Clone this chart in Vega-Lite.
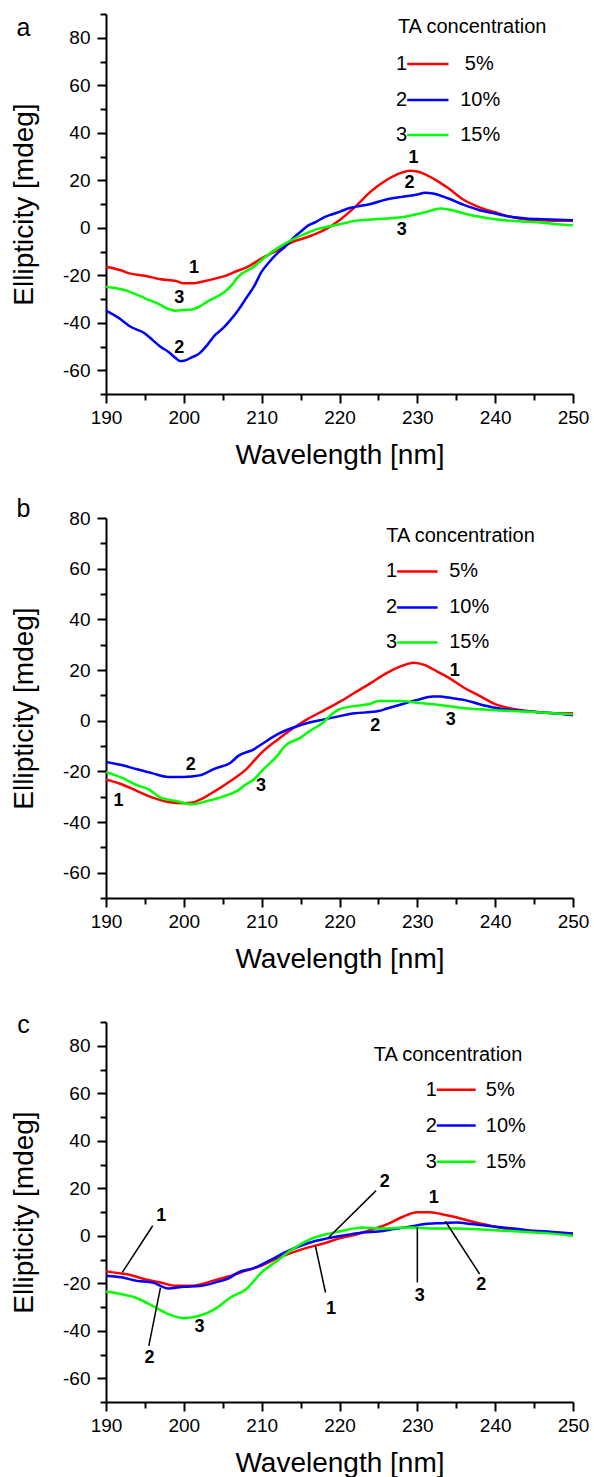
{
  "$schema": "https://vega.github.io/schema/vega-lite/v6.json",
  "padding": {"left": 10, "top": 13, "right": 0, "bottom": 0},
  "background": "white",
  "bounds": "flush",
  "spacing": 124,
  "config": {
    "locale": {"number": {"decimal": ".", "thousands": ",", "grouping": [3], "currency": ["$", ""], "minus": "-"}},
    "view": {"stroke": null},
    "axis": {
      "domainColor": "black", "domainWidth": 2, "tickColor": "black", "tickWidth": 2,
      "labelFont": "Liberation Sans", "labelFontSize": 19, "labelColor": "black",
      "titleFont": "Liberation Sans", "titleFontSize": 28, "titleFontWeight": "normal", "titleColor": "black",
      "grid": false, "labelFlush": false, "labelOverlap": false
    }
  },
  "datasets": {
    "curves": [
      {"panel":"a","series":"1","wl":190,"v":-16.4},{"panel":"a","series":"1","wl":192,"v":-18},{"panel":"a","series":"1","wl":193,"v":-19.2},{"panel":"a","series":"1","wl":195,"v":-20.2},{"panel":"a","series":"1","wl":197,"v":-21.7},{"panel":"a","series":"1","wl":199,"v":-22.4},{"panel":"a","series":"1","wl":200,"v":-23.4},{"panel":"a","series":"1","wl":201,"v":-23.4},{"panel":"a","series":"1","wl":203,"v":-22.2},{"panel":"a","series":"1","wl":205,"v":-20.6},{"panel":"a","series":"1","wl":207,"v":-18},{"panel":"a","series":"1","wl":208,"v":-16.8},{"panel":"a","series":"1","wl":210,"v":-12.9},{"panel":"a","series":"1","wl":212,"v":-9.4},{"panel":"a","series":"1","wl":214,"v":-5.9},{"panel":"a","series":"1","wl":216,"v":-3.8},{"panel":"a","series":"1","wl":218,"v":-1},{"panel":"a","series":"1","wl":220,"v":3.2},{"panel":"a","series":"1","wl":222,"v":8.8},{"panel":"a","series":"1","wl":224,"v":15.2},{"panel":"a","series":"1","wl":226,"v":20},{"panel":"a","series":"1","wl":228,"v":23.2},{"panel":"a","series":"1","wl":229,"v":24},{"panel":"a","series":"1","wl":230,"v":23.7},{"panel":"a","series":"1","wl":232,"v":20.8},{"panel":"a","series":"1","wl":234,"v":16.6},{"panel":"a","series":"1","wl":236,"v":11.7},{"panel":"a","series":"1","wl":238,"v":8.6},{"panel":"a","series":"1","wl":240,"v":6.5},{"panel":"a","series":"1","wl":242,"v":4.6},{"panel":"a","series":"1","wl":244,"v":3.5},{"panel":"a","series":"1","wl":246,"v":3.2},{"panel":"a","series":"1","wl":248,"v":2.9},{"panel":"a","series":"1","wl":250,"v":2.9},
      {"panel":"a","series":"2","wl":190,"v":-34.9},{"panel":"a","series":"2","wl":192,"v":-38.8},{"panel":"a","series":"2","wl":193,"v":-41.4},{"panel":"a","series":"2","wl":195,"v":-44.5},{"panel":"a","series":"2","wl":196,"v":-47.3},{"panel":"a","series":"2","wl":197,"v":-50.1},{"panel":"a","series":"2","wl":198,"v":-52.2},{"panel":"a","series":"2","wl":199,"v":-55},{"panel":"a","series":"2","wl":199.5,"v":-56.1},{"panel":"a","series":"2","wl":200,"v":-56},{"panel":"a","series":"2","wl":201,"v":-54.6},{"panel":"a","series":"2","wl":202,"v":-52.9},{"panel":"a","series":"2","wl":203,"v":-49.4},{"panel":"a","series":"2","wl":204,"v":-45.2},{"panel":"a","series":"2","wl":205,"v":-42.4},{"panel":"a","series":"2","wl":206,"v":-38.8},{"panel":"a","series":"2","wl":207,"v":-34.6},{"panel":"a","series":"2","wl":208,"v":-29.7},{"panel":"a","series":"2","wl":209,"v":-24.8},{"panel":"a","series":"2","wl":210,"v":-18.5},{"panel":"a","series":"2","wl":211,"v":-14.3},{"panel":"a","series":"2","wl":212,"v":-10.8},{"panel":"a","series":"2","wl":213,"v":-8},{"panel":"a","series":"2","wl":214,"v":-4.5},{"panel":"a","series":"2","wl":215,"v":-1.7},{"panel":"a","series":"2","wl":216,"v":1},{"panel":"a","series":"2","wl":217,"v":2.5},{"panel":"a","series":"2","wl":218,"v":4.4},{"panel":"a","series":"2","wl":219,"v":5.6},{"panel":"a","series":"2","wl":220,"v":6.7},{"panel":"a","series":"2","wl":221,"v":8},{"panel":"a","series":"2","wl":222,"v":8.8},{"panel":"a","series":"2","wl":224,"v":10},{"panel":"a","series":"2","wl":226,"v":11.9},{"panel":"a","series":"2","wl":228,"v":13},{"panel":"a","series":"2","wl":230,"v":14},{"panel":"a","series":"2","wl":231,"v":14.7},{"panel":"a","series":"2","wl":232,"v":14.4},{"panel":"a","series":"2","wl":234,"v":12.3},{"panel":"a","series":"2","wl":236,"v":9.6},{"panel":"a","series":"2","wl":238,"v":7.4},{"panel":"a","series":"2","wl":240,"v":6},{"panel":"a","series":"2","wl":242,"v":4.6},{"panel":"a","series":"2","wl":244,"v":3.9},{"panel":"a","series":"2","wl":246,"v":3.6},{"panel":"a","series":"2","wl":248,"v":3.4},{"panel":"a","series":"2","wl":250,"v":3.2},
      {"panel":"a","series":"3","wl":190,"v":-24.8},{"panel":"a","series":"3","wl":192,"v":-25.9},{"panel":"a","series":"3","wl":193,"v":-26.9},{"panel":"a","series":"3","wl":195,"v":-29.7},{"panel":"a","series":"3","wl":197,"v":-32.5},{"panel":"a","series":"3","wl":198,"v":-34.2},{"panel":"a","series":"3","wl":199,"v":-34.9},{"panel":"a","series":"3","wl":200,"v":-34.6},{"panel":"a","series":"3","wl":201,"v":-34.4},{"panel":"a","series":"3","wl":202,"v":-33.2},{"panel":"a","series":"3","wl":203,"v":-31.1},{"panel":"a","series":"3","wl":205,"v":-27.6},{"panel":"a","series":"3","wl":206,"v":-24.8},{"panel":"a","series":"3","wl":207,"v":-20.6},{"panel":"a","series":"3","wl":209,"v":-16.4},{"panel":"a","series":"3","wl":210,"v":-13.6},{"panel":"a","series":"3","wl":212,"v":-8.7},{"panel":"a","series":"3","wl":214,"v":-4.9},{"panel":"a","series":"3","wl":216,"v":-2},{"panel":"a","series":"3","wl":217,"v":-0.7},{"panel":"a","series":"3","wl":218,"v":0.1},{"panel":"a","series":"3","wl":220,"v":1.5},{"panel":"a","series":"3","wl":222,"v":2.9},{"panel":"a","series":"3","wl":224,"v":3.5},{"panel":"a","series":"3","wl":226,"v":3.9},{"panel":"a","series":"3","wl":228,"v":4.4},{"panel":"a","series":"3","wl":230,"v":5.8},{"panel":"a","series":"3","wl":231,"v":6.5},{"panel":"a","series":"3","wl":233,"v":8.1},{"panel":"a","series":"3","wl":234,"v":7.7},{"panel":"a","series":"3","wl":236,"v":6},{"panel":"a","series":"3","wl":238,"v":4.6},{"panel":"a","series":"3","wl":240,"v":3.6},{"panel":"a","series":"3","wl":242,"v":2.9},{"panel":"a","series":"3","wl":244,"v":2.5},{"panel":"a","series":"3","wl":246,"v":2.1},{"panel":"a","series":"3","wl":248,"v":1.5},{"panel":"a","series":"3","wl":250,"v":1},
      {"panel":"b","series":"1","wl":190,"v":-23.2},{"panel":"b","series":"1","wl":192,"v":-25.1},{"panel":"b","series":"1","wl":194,"v":-27.8},{"panel":"b","series":"1","wl":196,"v":-30.4},{"panel":"b","series":"1","wl":198,"v":-32.1},{"panel":"b","series":"1","wl":200,"v":-32.6},{"panel":"b","series":"1","wl":201,"v":-32.4},{"panel":"b","series":"1","wl":202,"v":-31.3},{"panel":"b","series":"1","wl":204,"v":-27.8},{"panel":"b","series":"1","wl":206,"v":-23.8},{"panel":"b","series":"1","wl":208,"v":-19.2},{"panel":"b","series":"1","wl":210,"v":-12.6},{"panel":"b","series":"1","wl":212,"v":-7.6},{"panel":"b","series":"1","wl":214,"v":-3.1},{"panel":"b","series":"1","wl":216,"v":0.8},{"panel":"b","series":"1","wl":218,"v":4.1},{"panel":"b","series":"1","wl":220,"v":7.4},{"panel":"b","series":"1","wl":222,"v":11.1},{"panel":"b","series":"1","wl":224,"v":14.8},{"panel":"b","series":"1","wl":226,"v":18.7},{"panel":"b","series":"1","wl":228,"v":21.6},{"panel":"b","series":"1","wl":229.5,"v":22.9},{"panel":"b","series":"1","wl":231,"v":21.9},{"panel":"b","series":"1","wl":232,"v":20.3},{"panel":"b","series":"1","wl":234,"v":17},{"panel":"b","series":"1","wl":236,"v":13},{"panel":"b","series":"1","wl":238,"v":9.8},{"panel":"b","series":"1","wl":240,"v":6.5},{"panel":"b","series":"1","wl":242,"v":4.8},{"panel":"b","series":"1","wl":244,"v":3.8},{"panel":"b","series":"1","wl":246,"v":3.2},{"panel":"b","series":"1","wl":248,"v":2.9},{"panel":"b","series":"1","wl":250,"v":2.9},
      {"panel":"b","series":"2","wl":190,"v":-16.3},{"panel":"b","series":"2","wl":192,"v":-17.5},{"panel":"b","series":"2","wl":194,"v":-19.2},{"panel":"b","series":"2","wl":196,"v":-20.8},{"panel":"b","series":"2","wl":198,"v":-22.2},{"panel":"b","series":"2","wl":200,"v":-22.2},{"panel":"b","series":"2","wl":202,"v":-21.6},{"panel":"b","series":"2","wl":204,"v":-18.9},{"panel":"b","series":"2","wl":206,"v":-16.6},{"panel":"b","series":"2","wl":207,"v":-13.9},{"panel":"b","series":"2","wl":209,"v":-11.3},{"panel":"b","series":"2","wl":210,"v":-9.3},{"panel":"b","series":"2","wl":212,"v":-5.4},{"panel":"b","series":"2","wl":214,"v":-2.8},{"panel":"b","series":"2","wl":216,"v":-0.8},{"panel":"b","series":"2","wl":218,"v":0.5},{"panel":"b","series":"2","wl":220,"v":1.8},{"panel":"b","series":"2","wl":222,"v":2.9},{"panel":"b","series":"2","wl":224,"v":3.4},{"panel":"b","series":"2","wl":225,"v":3.8},{"panel":"b","series":"2","wl":226,"v":4.7},{"panel":"b","series":"2","wl":228,"v":6.5},{"panel":"b","series":"2","wl":230,"v":8.2},{"panel":"b","series":"2","wl":232,"v":9.5},{"panel":"b","series":"2","wl":233,"v":9.5},{"panel":"b","series":"2","wl":234,"v":9.1},{"panel":"b","series":"2","wl":236,"v":8.2},{"panel":"b","series":"2","wl":238,"v":6.5},{"panel":"b","series":"2","wl":240,"v":5.1},{"panel":"b","series":"2","wl":242,"v":4.2},{"panel":"b","series":"2","wl":244,"v":3.8},{"panel":"b","series":"2","wl":246,"v":3.2},{"panel":"b","series":"2","wl":248,"v":2.8},{"panel":"b","series":"2","wl":250,"v":2.1},
      {"panel":"b","series":"3","wl":190,"v":-20.3},{"panel":"b","series":"3","wl":192,"v":-22.5},{"panel":"b","series":"3","wl":194,"v":-25.5},{"panel":"b","series":"3","wl":195.5,"v":-27.1},{"panel":"b","series":"3","wl":197,"v":-30.4},{"panel":"b","series":"3","wl":199,"v":-31.7},{"panel":"b","series":"3","wl":201,"v":-33},{"panel":"b","series":"3","wl":203,"v":-31.7},{"panel":"b","series":"3","wl":205,"v":-30},{"panel":"b","series":"3","wl":207,"v":-27.4},{"panel":"b","series":"3","wl":208,"v":-25.1},{"panel":"b","series":"3","wl":209,"v":-23.2},{"panel":"b","series":"3","wl":210,"v":-19.9},{"panel":"b","series":"3","wl":212,"v":-13.9},{"panel":"b","series":"3","wl":213,"v":-10},{"panel":"b","series":"3","wl":215,"v":-6.7},{"panel":"b","series":"3","wl":216,"v":-4.5},{"panel":"b","series":"3","wl":218,"v":-0.4},{"panel":"b","series":"3","wl":219,"v":2.5},{"panel":"b","series":"3","wl":220,"v":4.5},{"panel":"b","series":"3","wl":222,"v":5.8},{"panel":"b","series":"3","wl":224,"v":6.7},{"panel":"b","series":"3","wl":225,"v":7.8},{"panel":"b","series":"3","wl":226,"v":7.8},{"panel":"b","series":"3","wl":228,"v":7.8},{"panel":"b","series":"3","wl":230,"v":7.1},{"panel":"b","series":"3","wl":232,"v":6.5},{"panel":"b","series":"3","wl":234,"v":5.8},{"panel":"b","series":"3","wl":236,"v":4.9},{"panel":"b","series":"3","wl":238,"v":4.5},{"panel":"b","series":"3","wl":240,"v":4.1},{"panel":"b","series":"3","wl":242,"v":3.8},{"panel":"b","series":"3","wl":244,"v":3.6},{"panel":"b","series":"3","wl":246,"v":3.2},{"panel":"b","series":"3","wl":248,"v":2.8},{"panel":"b","series":"3","wl":250,"v":2.5},
      {"panel":"c","series":"1","wl":190,"v":-15},{"panel":"c","series":"1","wl":192,"v":-15.9},{"panel":"c","series":"1","wl":193,"v":-16.4},{"panel":"c","series":"1","wl":195,"v":-18.3},{"panel":"c","series":"1","wl":197,"v":-19.7},{"panel":"c","series":"1","wl":199,"v":-21.1},{"panel":"c","series":"1","wl":201,"v":-21.1},{"panel":"c","series":"1","wl":202,"v":-20.6},{"panel":"c","series":"1","wl":204,"v":-18.7},{"panel":"c","series":"1","wl":206,"v":-16.9},{"panel":"c","series":"1","wl":208,"v":-14.7},{"panel":"c","series":"1","wl":210,"v":-12.6},{"panel":"c","series":"1","wl":212,"v":-9.5},{"panel":"c","series":"1","wl":214,"v":-7},{"panel":"c","series":"1","wl":216,"v":-4.9},{"panel":"c","series":"1","wl":218,"v":-3.2},{"panel":"c","series":"1","wl":220,"v":-1.1},{"panel":"c","series":"1","wl":222,"v":0.4},{"panel":"c","series":"1","wl":224,"v":2.4},{"panel":"c","series":"1","wl":226,"v":4.7},{"panel":"c","series":"1","wl":228,"v":7.8},{"panel":"c","series":"1","wl":230,"v":9.9},{"panel":"c","series":"1","wl":231.5,"v":9.9},{"panel":"c","series":"1","wl":233,"v":9.2},{"panel":"c","series":"1","wl":235,"v":7.8},{"panel":"c","series":"1","wl":237,"v":6},{"panel":"c","series":"1","wl":239,"v":4.5},{"panel":"c","series":"1","wl":241,"v":3.2},{"panel":"c","series":"1","wl":243,"v":2.4},{"panel":"c","series":"1","wl":245,"v":1.8},{"panel":"c","series":"1","wl":247,"v":1.4},{"panel":"c","series":"1","wl":250,"v":0.7},
      {"panel":"c","series":"2","wl":190,"v":-16.8},{"panel":"c","series":"2","wl":192,"v":-17.5},{"panel":"c","series":"2","wl":194,"v":-19},{"panel":"c","series":"2","wl":196,"v":-19.7},{"panel":"c","series":"2","wl":197,"v":-21.1},{"panel":"c","series":"2","wl":198,"v":-22.2},{"panel":"c","series":"2","wl":200,"v":-21.5},{"panel":"c","series":"2","wl":202,"v":-21.2},{"panel":"c","series":"2","wl":204,"v":-19.7},{"panel":"c","series":"2","wl":206,"v":-17.5},{"panel":"c","series":"2","wl":207,"v":-15.4},{"panel":"c","series":"2","wl":209,"v":-13.6},{"panel":"c","series":"2","wl":211,"v":-10.5},{"panel":"c","series":"2","wl":213,"v":-7},{"panel":"c","series":"2","wl":215,"v":-4.2},{"panel":"c","series":"2","wl":217,"v":-2.1},{"panel":"c","series":"2","wl":219,"v":-0.7},{"panel":"c","series":"2","wl":221,"v":0.4},{"panel":"c","series":"2","wl":223,"v":1.4},{"panel":"c","series":"2","wl":225,"v":1.8},{"panel":"c","series":"2","wl":227,"v":2.8},{"panel":"c","series":"2","wl":229,"v":3.8},{"panel":"c","series":"2","wl":231,"v":4.9},{"panel":"c","series":"2","wl":233,"v":5.3},{"panel":"c","series":"2","wl":235,"v":5.6},{"panel":"c","series":"2","wl":237,"v":4.9},{"panel":"c","series":"2","wl":239,"v":4.2},{"panel":"c","series":"2","wl":241,"v":3.5},{"panel":"c","series":"2","wl":243,"v":2.8},{"panel":"c","series":"2","wl":245,"v":2.1},{"panel":"c","series":"2","wl":247,"v":1.7},{"panel":"c","series":"2","wl":250,"v":1},
      {"panel":"c","series":"3","wl":190,"v":-23.5},{"panel":"c","series":"3","wl":192,"v":-24.6},{"panel":"c","series":"3","wl":194,"v":-26.3},{"panel":"c","series":"3","wl":196,"v":-29.5},{"panel":"c","series":"3","wl":198,"v":-33},{"panel":"c","series":"3","wl":200,"v":-34.7},{"panel":"c","series":"3","wl":202,"v":-33.7},{"panel":"c","series":"3","wl":204,"v":-30.9},{"panel":"c","series":"3","wl":206,"v":-26},{"panel":"c","series":"3","wl":208,"v":-22.5},{"panel":"c","series":"3","wl":210,"v":-15.4},{"panel":"c","series":"3","wl":212,"v":-10.5},{"panel":"c","series":"3","wl":214,"v":-5.6},{"panel":"c","series":"3","wl":216,"v":-1.8},{"panel":"c","series":"3","wl":218,"v":0.4},{"panel":"c","series":"3","wl":220,"v":1.8},{"panel":"c","series":"3","wl":222,"v":3.1},{"panel":"c","series":"3","wl":223,"v":3.5},{"panel":"c","series":"3","wl":225,"v":3.1},{"panel":"c","series":"3","wl":227,"v":3.2},{"panel":"c","series":"3","wl":229,"v":3.5},{"panel":"c","series":"3","wl":231,"v":3.2},{"panel":"c","series":"3","wl":233,"v":3.1},{"panel":"c","series":"3","wl":235,"v":3.1},{"panel":"c","series":"3","wl":237,"v":2.8},{"panel":"c","series":"3","wl":239,"v":2.5},{"panel":"c","series":"3","wl":241,"v":2.1},{"panel":"c","series":"3","wl":243,"v":1.8},{"panel":"c","series":"3","wl":245,"v":1.4},{"panel":"c","series":"3","wl":247,"v":1},{"panel":"c","series":"3","wl":250,"v":0}
    ],
    "labels": [
      {"panel":"a","text":"1","wl":201.3,"v":-17.1},{"panel":"a","text":"3","wl":199.4,"v":-29.7},{"panel":"a","text":"2","wl":199.4,"v":-50.8},{"panel":"a","text":"1","wl":229.5,"v":29.2},{"panel":"a","text":"2","wl":229.0,"v":19.0},{"panel":"a","text":"3","wl":228.0,"v":-1.0},
      {"panel":"b","text":"1","wl":191.6,"v":-31.7},{"panel":"b","text":"2","wl":200.9,"v":-17.6},{"panel":"b","text":"3","wl":209.9,"v":-25.8},{"panel":"b","text":"2","wl":224.6,"v":-2.1},{"panel":"b","text":"3","wl":234.3,"v":0.2},{"panel":"b","text":"1","wl":234.8,"v":19.7},
      {"panel":"c","text":"1","wl":197.1,"v":8.5},{"panel":"c","text":"2","wl":195.6,"v":-51.3},{"panel":"c","text":"3","wl":202.0,"v":-38.6},{"panel":"c","text":"1","wl":218.9,"v":-30.9},{"panel":"c","text":"2","wl":225.8,"v":22.5},{"panel":"c","text":"1","wl":232.1,"v":15.9},{"panel":"c","text":"3","wl":230.3,"v":-25.3},{"panel":"c","text":"2","wl":238.2,"v":-20.6}
    ],
    "leaders": [
      {"panel":"c","wl":196.0,"v":4.2,"wl2":192.1,"v2":-15.4},
      {"panel":"c","wl":195.5,"v":-46.4,"wl2":197.0,"v2":-21.8},
      {"panel":"c","wl":218.2,"v":-23.9,"wl2":216.9,"v2":-4.2},
      {"panel":"c","wl":224.7,"v":19.0,"wl2":218.6,"v2":-0.7},
      {"panel":"c","wl":230.0,"v":-19.7,"wl2":230.0,"v2":3.5},
      {"panel":"c","wl":238.0,"v":-16.1,"wl2":233.6,"v2":6.1}
    ],
    "legend": [
      {"panel":"a","series":"1","label":"5%","v":68.9,"wl":228.7,"wl2":234.0,"lwl":236.1},
      {"panel":"a","series":"2","label":"10%","v":53.8,"wl":228.7,"wl2":234.0,"lwl":235.5},
      {"panel":"a","series":"3","label":"15%","v":39.1,"wl":228.7,"wl2":234.0,"lwl":235.5},
      {"panel":"b","series":"1","label":"5%","v":58.9,"wl":227.4,"wl2":232.6,"lwl":234.1},
      {"panel":"b","series":"2","label":"10%","v":44.7,"wl":227.4,"wl2":232.6,"lwl":234.1},
      {"panel":"b","series":"3","label":"15%","v":30.9,"wl":227.4,"wl2":232.6,"lwl":234.1},
      {"panel":"c","series":"1","label":"5%","v":61.5,"wl":232.5,"wl2":237.5,"lwl":238.8},
      {"panel":"c","series":"2","label":"10%","v":46.4,"wl":232.5,"wl2":237.5,"lwl":238.8},
      {"panel":"c","series":"3","label":"15%","v":31.2,"wl":232.5,"wl2":237.5,"lwl":238.8}
    ],
    "titles": [
      {"panel":"a","text":"TA concentration","wl":227.5,"v":84.4},
      {"panel":"b","text":"TA concentration","wl":226.0,"v":73.0},
      {"panel":"c","text":"TA concentration","wl":224.4,"v":76.2}
    ],
    "letters": [
      {"panel":"a","text":"a","wl":179.4,"v":80.7},
      {"panel":"b","text":"b","wl":179.4,"v":80.3},
      {"panel":"c","text":"c","wl":179.4,"v":85.4}
    ]
  },
  "vconcat": [
    {
      "width": 467, "height": 380,
      "resolve": {"axis": {"x": "independent", "y": "independent"}},
      "layer": [
        {"data": {"name": "curves"}, "transform": [{"filter": "datum.panel === 'a'"}],
         "mark": {"type": "line", "strokeWidth": 2.5, "interpolate": "monotone"},
         "encoding": {
           "x": {"field": "wl", "type": "quantitative", "scale": {"domain": [190, 250], "nice": false, "zero": false},
                 "axis": {"title": "Wavelength [nm]", "orient": "bottom", "values": [190,200,210,220,230,240,250], "tickSize": 9, "labelPadding": 5, "titlePadding": 14}},
           "y": {"field": "v", "type": "quantitative", "scale": {"domain": [-70, 90], "nice": false, "zero": false},
                 "axis": {"title": "Ellipticity [mdeg]", "orient": "left", "values": [-60,-40,-20,0,20,40,60,80], "tickSize": 9, "labelPadding": 7, "titlePadding": 24}},
           "color": {"field": "series", "type": "nominal", "scale": {"domain": ["1","2","3"], "range": ["#ff0000","#0000ff","#00ff00"]}, "legend": null},
           "detail": {"field": "series"}
         }},
        {"data": {"name": "letters"}, "transform": [{"filter": "datum.panel === 'a'"}],
         "mark": {"type": "text", "font": "Liberation Sans", "fontSize": 25, "color": "black", "baseline": "alphabetic", "align": "center"},
         "encoding": {"x": {"field": "wl", "type": "quantitative", "scale": {"domain": [190, 250]}, "axis": {"orient": "bottom", "values": [195,205,215,225,235,245], "tickSize": 6, "labels": false, "domain": false, "title": null}},
                      "y": {"field": "v", "type": "quantitative", "scale": {"domain": [-70, 90]}, "axis": {"orient": "left", "values": [-70,-50,-30,-10,10,30,50,70,90], "tickSize": 6, "labels": false, "domain": false, "title": null}},
                      "text": {"field": "text"}}},
        {"data": {"name": "labels"}, "transform": [{"filter": "datum.panel === 'a'"}],
         "mark": {"type": "text", "font": "Liberation Sans Narrow, Liberation Sans", "fontWeight": "bold", "fontSize": 18, "color": "black", "baseline": "middle", "align": "center"},
         "encoding": {"x": {"field": "wl", "type": "quantitative", "scale": {"domain": [190, 250]}, "axis": null},
                      "y": {"field": "v", "type": "quantitative", "scale": {"domain": [-70, 90]}, "axis": null},
                      "text": {"field": "text"}}},
        {"data": {"name": "legend"}, "transform": [{"filter": "datum.panel === 'a'"}],
         "mark": {"type": "rule", "strokeWidth": 2.5},
         "encoding": {"x": {"field": "wl", "type": "quantitative", "scale": {"domain": [190, 250]}, "axis": null}, "x2": {"field": "wl2"},
                      "y": {"field": "v", "type": "quantitative", "scale": {"domain": [-70, 90]}, "axis": null},
                      "color": {"field": "series", "type": "nominal", "legend": null}}},
        {"data": {"name": "legend"}, "transform": [{"filter": "datum.panel === 'a'"}],
         "mark": {"type": "text", "font": "Liberation Sans", "fontSize": 20, "color": "black", "baseline": "middle", "align": "right"},
         "encoding": {"x": {"field": "wl", "type": "quantitative", "scale": {"domain": [190, 250]}, "axis": null},
                      "y": {"field": "v", "type": "quantitative", "scale": {"domain": [-70, 90]}, "axis": null},
                      "text": {"field": "series"}}},
        {"data": {"name": "legend"}, "transform": [{"filter": "datum.panel === 'a'"}],
         "mark": {"type": "text", "font": "Liberation Sans", "fontSize": 20, "color": "black", "baseline": "middle", "align": "left"},
         "encoding": {"x": {"field": "lwl", "type": "quantitative", "scale": {"domain": [190, 250]}, "axis": null},
                      "y": {"field": "v", "type": "quantitative", "scale": {"domain": [-70, 90]}, "axis": null},
                      "text": {"field": "label"}}},
        {"data": {"name": "titles"}, "transform": [{"filter": "datum.panel === 'a'"}],
         "mark": {"type": "text", "font": "Liberation Sans", "fontSize": 20, "color": "black", "baseline": "middle", "align": "left"},
         "encoding": {"x": {"field": "wl", "type": "quantitative", "scale": {"domain": [190, 250]}, "axis": null},
                      "y": {"field": "v", "type": "quantitative", "scale": {"domain": [-70, 90]}, "axis": null},
                      "text": {"field": "text"}}}
      ]
    },
    {
      "width": 467, "height": 380,
      "resolve": {"axis": {"x": "independent", "y": "independent"}},
      "layer": [
        {"data": {"name": "curves"}, "transform": [{"filter": "datum.panel === 'b'"}],
         "mark": {"type": "line", "strokeWidth": 2.5, "interpolate": "monotone"},
         "encoding": {
           "x": {"field": "wl", "type": "quantitative", "scale": {"domain": [190, 250], "nice": false, "zero": false},
                 "axis": {"title": "Wavelength [nm]", "orient": "bottom", "values": [190,200,210,220,230,240,250], "tickSize": 9, "labelPadding": 5, "titlePadding": 14}},
           "y": {"field": "v", "type": "quantitative", "scale": {"domain": [-70, 80], "nice": false, "zero": false},
                 "axis": {"title": "Ellipticity [mdeg]", "orient": "left", "values": [-60,-40,-20,0,20,40,60,80], "tickSize": 9, "labelPadding": 7, "titlePadding": 24}},
           "color": {"field": "series", "type": "nominal", "scale": {"domain": ["1","2","3"], "range": ["#ff0000","#0000ff","#00ff00"]}, "legend": null},
           "detail": {"field": "series"}
         }},
        {"data": {"name": "letters"}, "transform": [{"filter": "datum.panel === 'b'"}],
         "mark": {"type": "text", "font": "Liberation Sans", "fontSize": 25, "color": "black", "baseline": "alphabetic", "align": "center"},
         "encoding": {"x": {"field": "wl", "type": "quantitative", "scale": {"domain": [190, 250]}, "axis": {"orient": "bottom", "values": [195,205,215,225,235,245], "tickSize": 6, "labels": false, "domain": false, "title": null}},
                      "y": {"field": "v", "type": "quantitative", "scale": {"domain": [-70, 80]}, "axis": {"orient": "left", "values": [-70,-50,-30,-10,10,30,50,70], "tickSize": 6, "labels": false, "domain": false, "title": null}},
                      "text": {"field": "text"}}},
        {"data": {"name": "labels"}, "transform": [{"filter": "datum.panel === 'b'"}],
         "mark": {"type": "text", "font": "Liberation Sans Narrow, Liberation Sans", "fontWeight": "bold", "fontSize": 18, "color": "black", "baseline": "middle", "align": "center"},
         "encoding": {"x": {"field": "wl", "type": "quantitative", "scale": {"domain": [190, 250]}, "axis": null},
                      "y": {"field": "v", "type": "quantitative", "scale": {"domain": [-70, 80]}, "axis": null},
                      "text": {"field": "text"}}},
        {"data": {"name": "legend"}, "transform": [{"filter": "datum.panel === 'b'"}],
         "mark": {"type": "rule", "strokeWidth": 2.5},
         "encoding": {"x": {"field": "wl", "type": "quantitative", "scale": {"domain": [190, 250]}, "axis": null}, "x2": {"field": "wl2"},
                      "y": {"field": "v", "type": "quantitative", "scale": {"domain": [-70, 80]}, "axis": null},
                      "color": {"field": "series", "type": "nominal", "legend": null}}},
        {"data": {"name": "legend"}, "transform": [{"filter": "datum.panel === 'b'"}],
         "mark": {"type": "text", "font": "Liberation Sans", "fontSize": 20, "color": "black", "baseline": "middle", "align": "right"},
         "encoding": {"x": {"field": "wl", "type": "quantitative", "scale": {"domain": [190, 250]}, "axis": null},
                      "y": {"field": "v", "type": "quantitative", "scale": {"domain": [-70, 80]}, "axis": null},
                      "text": {"field": "series"}}},
        {"data": {"name": "legend"}, "transform": [{"filter": "datum.panel === 'b'"}],
         "mark": {"type": "text", "font": "Liberation Sans", "fontSize": 20, "color": "black", "baseline": "middle", "align": "left"},
         "encoding": {"x": {"field": "lwl", "type": "quantitative", "scale": {"domain": [190, 250]}, "axis": null},
                      "y": {"field": "v", "type": "quantitative", "scale": {"domain": [-70, 80]}, "axis": null},
                      "text": {"field": "label"}}},
        {"data": {"name": "titles"}, "transform": [{"filter": "datum.panel === 'b'"}],
         "mark": {"type": "text", "font": "Liberation Sans", "fontSize": 20, "color": "black", "baseline": "middle", "align": "left"},
         "encoding": {"x": {"field": "wl", "type": "quantitative", "scale": {"domain": [190, 250]}, "axis": null},
                      "y": {"field": "v", "type": "quantitative", "scale": {"domain": [-70, 80]}, "axis": null},
                      "text": {"field": "text"}}}
      ]
    },
    {
      "width": 467, "height": 380,
      "resolve": {"axis": {"x": "independent", "y": "independent"}},
      "layer": [
        {"data": {"name": "curves"}, "transform": [{"filter": "datum.panel === 'c'"}],
         "mark": {"type": "line", "strokeWidth": 2.5, "interpolate": "monotone"},
         "encoding": {
           "x": {"field": "wl", "type": "quantitative", "scale": {"domain": [190, 250], "nice": false, "zero": false},
                 "axis": {"title": "Wavelength [nm]", "orient": "bottom", "values": [190,200,210,220,230,240,250], "tickSize": 9, "labelPadding": 5, "titlePadding": 14}},
           "y": {"field": "v", "type": "quantitative", "scale": {"domain": [-70, 90], "nice": false, "zero": false},
                 "axis": {"title": "Ellipticity [mdeg]", "orient": "left", "values": [-60,-40,-20,0,20,40,60,80], "tickSize": 9, "labelPadding": 7, "titlePadding": 24}},
           "color": {"field": "series", "type": "nominal", "scale": {"domain": ["1","2","3"], "range": ["#ff0000","#0000ff","#00ff00"]}, "legend": null},
           "detail": {"field": "series"}
         }},
        {"data": {"name": "letters"}, "transform": [{"filter": "datum.panel === 'c'"}],
         "mark": {"type": "text", "font": "Liberation Sans", "fontSize": 25, "color": "black", "baseline": "alphabetic", "align": "center"},
         "encoding": {"x": {"field": "wl", "type": "quantitative", "scale": {"domain": [190, 250]}, "axis": {"orient": "bottom", "values": [195,205,215,225,235,245], "tickSize": 6, "labels": false, "domain": false, "title": null}},
                      "y": {"field": "v", "type": "quantitative", "scale": {"domain": [-70, 90]}, "axis": {"orient": "left", "values": [-70,-50,-30,-10,10,30,50,70,90], "tickSize": 6, "labels": false, "domain": false, "title": null}},
                      "text": {"field": "text"}}},
        {"data": {"name": "leaders"},
         "mark": {"type": "rule", "strokeWidth": 1.5, "color": "black"},
         "encoding": {"x": {"field": "wl", "type": "quantitative", "scale": {"domain": [190, 250]}, "axis": null}, "x2": {"field": "wl2"},
                      "y": {"field": "v", "type": "quantitative", "scale": {"domain": [-70, 90]}, "axis": null}, "y2": {"field": "v2"}}},
        {"data": {"name": "labels"}, "transform": [{"filter": "datum.panel === 'c'"}],
         "mark": {"type": "text", "font": "Liberation Sans Narrow, Liberation Sans", "fontWeight": "bold", "fontSize": 18, "color": "black", "baseline": "middle", "align": "center"},
         "encoding": {"x": {"field": "wl", "type": "quantitative", "scale": {"domain": [190, 250]}, "axis": null},
                      "y": {"field": "v", "type": "quantitative", "scale": {"domain": [-70, 90]}, "axis": null},
                      "text": {"field": "text"}}},
        {"data": {"name": "legend"}, "transform": [{"filter": "datum.panel === 'c'"}],
         "mark": {"type": "rule", "strokeWidth": 2.5},
         "encoding": {"x": {"field": "wl", "type": "quantitative", "scale": {"domain": [190, 250]}, "axis": null}, "x2": {"field": "wl2"},
                      "y": {"field": "v", "type": "quantitative", "scale": {"domain": [-70, 90]}, "axis": null},
                      "color": {"field": "series", "type": "nominal", "legend": null}}},
        {"data": {"name": "legend"}, "transform": [{"filter": "datum.panel === 'c'"}],
         "mark": {"type": "text", "font": "Liberation Sans", "fontSize": 20, "color": "black", "baseline": "middle", "align": "right"},
         "encoding": {"x": {"field": "wl", "type": "quantitative", "scale": {"domain": [190, 250]}, "axis": null},
                      "y": {"field": "v", "type": "quantitative", "scale": {"domain": [-70, 90]}, "axis": null},
                      "text": {"field": "series"}}},
        {"data": {"name": "legend"}, "transform": [{"filter": "datum.panel === 'c'"}],
         "mark": {"type": "text", "font": "Liberation Sans", "fontSize": 20, "color": "black", "baseline": "middle", "align": "left"},
         "encoding": {"x": {"field": "lwl", "type": "quantitative", "scale": {"domain": [190, 250]}, "axis": null},
                      "y": {"field": "v", "type": "quantitative", "scale": {"domain": [-70, 90]}, "axis": null},
                      "text": {"field": "label"}}},
        {"data": {"name": "titles"}, "transform": [{"filter": "datum.panel === 'c'"}],
         "mark": {"type": "text", "font": "Liberation Sans", "fontSize": 20, "color": "black", "baseline": "middle", "align": "left"},
         "encoding": {"x": {"field": "wl", "type": "quantitative", "scale": {"domain": [190, 250]}, "axis": null},
                      "y": {"field": "v", "type": "quantitative", "scale": {"domain": [-70, 90]}, "axis": null},
                      "text": {"field": "text"}}}
      ]
    }
  ]
}
